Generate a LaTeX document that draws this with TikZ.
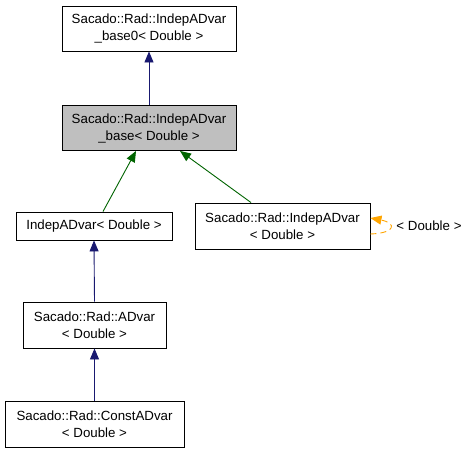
\documentclass[tikz,border=0pt]{standalone}
\usepackage{fontspec}
\setmainfont{Liberation Sans}
\usetikzlibrary{arrows.meta,calc}
\begin{document}
\begin{tikzpicture}[x=1pt,y=-1pt,
  cls/.style={draw=black,line width=0.9pt,fill=white,align=center,inner sep=0pt,
    font=\fontsize{13.3}{17}\selectfont},
  cur/.style={cls,fill=black!25},
  inh/.style={color={rgb,255:red,25;green,25;blue,112},line width=0.9pt,
    -{Triangle[length=11pt,width=9pt]}},
  pub/.style={color={rgb,255:red,0;green,100;blue,0},line width=0.9pt,
    -{Triangle[length=11pt,width=9pt]}},
  tmpl/.style={color={rgb,255:red,255;green,165;blue,0},line width=0.9pt,dash pattern=on 6pt off 4pt,
    -{Triangle[length=11pt,width=9pt]}},
  lbl/.style={font=\fontsize{13.3}{17}\selectfont,inner sep=0pt}
]
\useasboundingbox[fill=white] (0,0) rectangle (468,453);
\node[cls,minimum width=174pt,minimum height=45pt] (b1) at (149,28.5) {Sacado::Rad::IndepADvar\\\_base0< Double >};
\node[cur,minimum width=174pt,minimum height=45pt] (b2) at (149,128) {Sacado::Rad::IndepADvar\\\_base< Double >};
\node[cls,minimum width=156pt,minimum height=28pt] (b3) at (94,226) {IndepADvar< Double >};
\node[cls,minimum width=175pt,minimum height=46pt] (b4) at (282.5,226) {Sacado::Rad::IndepADvar\\< Double >};
\node[cls,minimum width=143pt,minimum height=46pt] (b5) at (94.5,325) {Sacado::Rad::ADvar\\< Double >};
\node[cls,minimum width=179pt,minimum height=46pt] (b6) at (94.5,424) {Sacado::Rad::ConstADvar\\< Double >};
\node[lbl] (t4) at (429,226) {< Double >};

\draw[inh] (b2.north) -- (b1.south);
\draw[pub] ([xshift=9pt]b3.north) -- ([xshift=-13pt]b2.south);
\draw[pub] ([xshift=-31.5pt]b4.north) -- ([xshift=31pt]b2.south);
\draw[inh] (b5.north) -- (b3.south);
\draw[inh] (b6.north) -- (b5.south);
\draw[tmpl] ([yshift=-8pt]b4.east) .. controls +(26,-1) and +(26,5) .. ([yshift=8pt]b4.east);
\end{tikzpicture}
\end{document}
